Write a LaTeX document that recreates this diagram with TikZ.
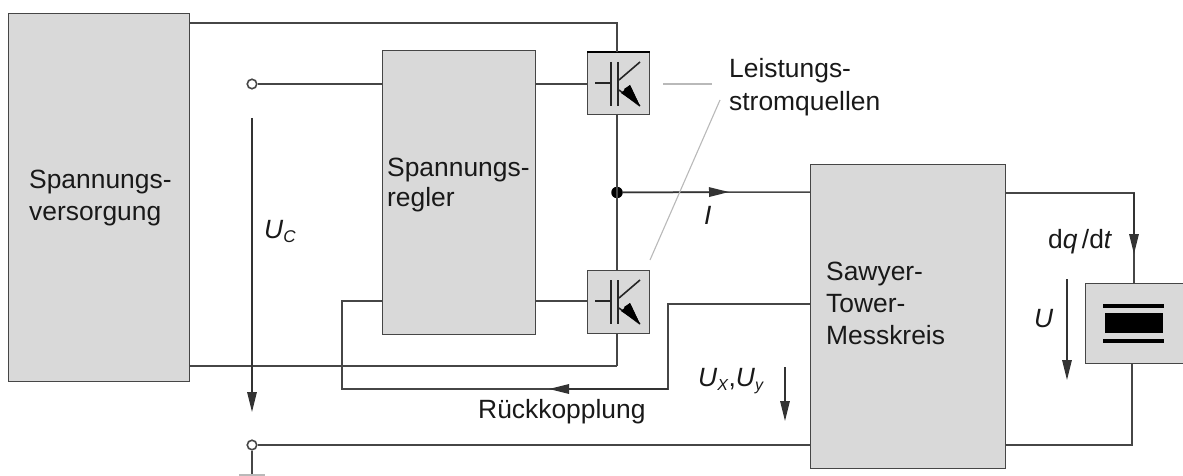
\documentclass[tikz,border=0pt]{standalone}
\usepackage{fontspec}
\setmainfont{Liberation Sans}
\usetikzlibrary{arrows.meta}
\definecolor{boxfill}{RGB}{217,217,217}
\definecolor{wire}{RGB}{70,70,70}
\definecolor{leader}{RGB}{185,185,185}
\tikzset{
  blockbox/.style={draw=wire,fill=boxfill,line width=1.4pt,inner sep=0pt,minimum width=#1},
  wireline/.style={draw=wire,line width=1.5pt},
  leaderline/.style={draw=leader,line width=1.1pt},
  tipline/.style={draw=black!80,line width=1.5pt,-{Triangle[length=20pt,width=9.5pt]}},
  terminal/.style={circle,draw=wire,fill=white,line width=1.6pt,inner sep=0pt,minimum size=9.5pt},
  junction/.style={circle,fill=black,inner sep=0pt,minimum size=11.5pt},
  label/.style={inner sep=0pt,align=left,font=\fontsize{26.4}{32}\selectfont,text=black!90},
  igbt/.pic={
    \draw[black!85,line width=2pt] (-6,-22) -- (-6,22);
    \draw[black!85,line width=2pt] (1,-22) -- (1,22);
    \draw[black!85,line width=1.8pt] (-22,-1) -- (-6,-1);
    \draw[black!85,line width=1.6pt] (2,-4) -- (23,-22);
    \draw[black!85,line width=1.6pt] (2,6) -- (23,22);
    \fill[black] (7,5) -- (13,1) -- (23,22) -- cycle;
    \fill[black] (4,9) -- (13,1) -- (23,22) -- cycle;
  }
}
\begin{document}
\begin{tikzpicture}[x=1pt,y=-1pt]
\useasboundingbox (0,0) rectangle (1183,476);
\node[blockbox=181pt,minimum height=368pt,anchor=north west] (sv) at (8,13) {};
\node[blockbox=153pt,minimum height=284pt,anchor=north west] (reg) at (382,50) {};
\node[blockbox=62pt,minimum height=62pt,anchor=north west] (t1) at (587,52) {};
\node[blockbox=62pt,minimum height=63pt,anchor=north west] (t2) at (587,270) {};
\node[blockbox=195pt,minimum height=304pt,anchor=north west] (st) at (810,164) {};
\node[blockbox=100pt,minimum height=80pt,anchor=north west] (cap) at (1085,283) {};
\draw[black,line width=2.4pt] (t1.north west) -- (t1.north east);
\pic at (617,84) {igbt};
\pic at (617,302) {igbt};
\fill[black] (1103,304) rectangle (1164,308);
\fill[black] (1105,313) rectangle (1163,333);
\fill[black] (1103,339) rectangle (1164,343);
\coordinate (c1) at (617,23);
\coordinate (c1a) at (189,23);
\coordinate (c2) at (617,366);
\coordinate (c2a) at (189,366);
\coordinate (r1) at (535,84);
\coordinate (r1b) at (587,84);
\coordinate (r2) at (535,301);
\coordinate (r2b) at (587,301);
\coordinate (f0) at (382,301);
\coordinate (f1) at (342,301);
\coordinate (f2) at (342,389);
\coordinate (f3) at (668,389);
\coordinate (f4) at (668,304);
\coordinate (f5) at (810,304);
\coordinate (fm) at (549,389);
\coordinate (im) at (729,192);
\coordinate (q0) at (1005,193);
\coordinate (q1) at (1134,193);
\coordinate (q2) at (1134,283);
\coordinate (qm) at (1134,254);
\coordinate (b1) at (1132,445);
\coordinate (b2) at (1132,363);
\coordinate (b3) at (810,445);
\coordinate (g1) at (252,475);
\coordinate (ga) at (239,475);
\coordinate (gb) at (265,475);
\coordinate (uc0) at (252,118);
\coordinate (uc1) at (252,412);
\coordinate (ux0) at (785,367);
\coordinate (ux1) at (785,421);
\coordinate (u0) at (1067,279);
\coordinate (u1) at (1067,380);
\coordinate (la) at (663,84);
\coordinate (lb) at (712,84);
\coordinate (lc) at (650,260);
\coordinate (ld) at (720,100);
\coordinate (tv) at (617,52);
\coordinate (tv2) at (617,114);
\coordinate (tv3) at (617,270);
\coordinate (tv4) at (617,333);
\coordinate (re) at (382,84);
\coordinate (jr) at (810,192);
\node[terminal] (tu) at (252,84) {};
\node[terminal] (tl) at (252,445) {};
\node[junction] (j) at (617,192.5) {};
\draw[wireline] (c1a) -- (c1) -- (tv);
\draw[wireline,line width=2.2pt] (c2a) -- (c2);
\draw[wireline] (c2) -- (tv4);
\draw[wireline] (tv2) -- (tv3);
\draw[wireline] (tu) -- (re);
\draw[wireline] (r1) -- (r1b);
\draw[wireline] (r2) -- (r2b);
\draw[wireline] (f0) -- (f1) -- (f2) -- (f3) -- (f4) -- (f5);
\draw[tipline] (f3) -- (fm);
\draw[wireline] (j) -- (jr);
\draw[tipline] (j) -- (im);
\draw[wireline] (q0) -- (q1) -- (q2);
\draw[tipline] (q1) -- (qm);
\draw[wireline] (tl) -- (b3);
\draw[wireline] (st.south east |- b1) -- (b1) -- (b2);
\draw[wireline] (tl) -- (g1);
\draw[leaderline] (ga) -- (gb);
\draw[tipline] (uc0) -- (uc1);
\draw[tipline] (ux0) -- (ux1);
\draw[tipline] (u0) -- (u1);
\draw[leaderline] (la) -- (lb);
\draw[leaderline] (lc) -- (ld);
\node[label,anchor=north west] (a1) at (29,170) {Spannungs-\\versorgung};
\node[label,anchor=north west,font=\fontsize{26.4}{30}\selectfont] (a2) at (387,158) {Spannungs-\\regler};
\node[label,anchor=north west] (a3) at (826,262) {Sawyer-\\Tower-\\Messkreis};
\node[label,anchor=north west,font=\fontsize{26.4}{33}\selectfont] (a4) at (729,58) {Leistungs-\\stromquellen};
\node[label,anchor=west] (a5) at (478,412) {Rückkopplung};
\node[label,anchor=west] (a6) at (251,232) {\phantom{}\hspace{13pt}\textit{U}\raisebox{-4pt}{\fontsize{17}{20}\selectfont\textit{C}}};
\node[label,anchor=west] (a7) at (704,215) {\textit{I}};
\node[label,anchor=west] (a8) at (698,381) {\textit{U}\raisebox{-4pt}{\fontsize{16}{20}\selectfont\textit{X}},\textit{U}\raisebox{-4pt}{\fontsize{16}{20}\selectfont\textit{y}}};
\node[label,anchor=west] (a9) at (1048,242) {d\textit{q}\,/d\textit{t}};
\node[label,anchor=west] (a10) at (1034,319) {\textit{U}};
\end{tikzpicture}
\end{document}
